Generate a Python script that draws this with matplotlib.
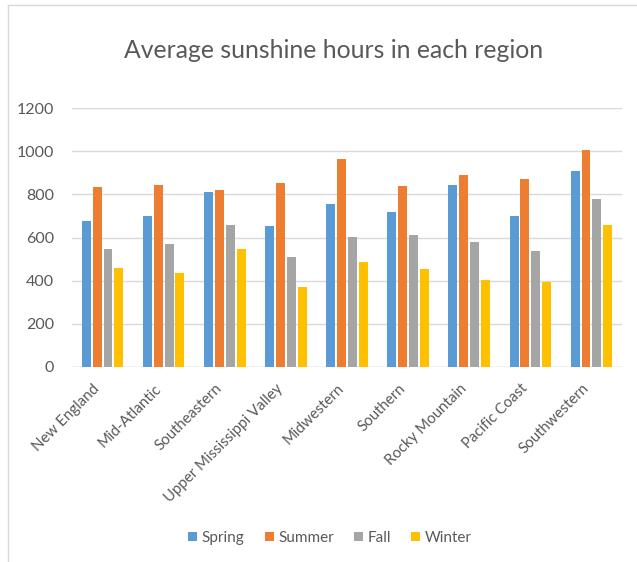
import numpy as np
import matplotlib.pyplot as plt
import matplotlib.transforms as mtransforms
from matplotlib.lines import Line2D

# --- data ---
regions = ['New England', 'Mid-Atlantic', 'Southeastern', 'Upper Mississippi Valley',
           'Midwestern', 'Southern', 'Rocky Mountain', 'Pacific Coast', 'Southwestern']
spring = [677, 699, 812, 653, 753, 719, 843, 699, 909]
summer = [832, 841, 819, 853, 966, 840, 889, 873, 1005]
fall = [545, 568, 660, 511, 603, 613, 579, 539, 779]
winter = [460, 437, 545, 372, 485, 452, 403, 394, 659]
seasons = ['Spring', 'Summer', 'Fall', 'Winter']
yticks = [0, 200, 400, 600, 800, 1000, 1200]

colors = ['#5b9bd5', '#ed7d31', '#a5a5a5', '#ffc000']
text_gray = '#595959'

plt.rcParams['font.family'] = ['Lato', 'DejaVu Sans']

fig = plt.figure(figsize=(6.37, 5.62), dpi=100)
ax = fig.add_axes([72 / 637, 1 - 367 / 562, (622 - 72) / 637, (367 - 108) / 562])

x = np.arange(len(regions))
width = 0.147
pitch = 0.178
for k, (vals, c) in enumerate(zip([spring, summer, fall, winter], colors)):
    ax.bar(x + (k - 1.5) * pitch, vals, width=width, color=c, label=seasons[k], zorder=3)

ax.set_xlim(-0.5, len(regions) - 0.5)
ax.set_ylim(0, 1200)
ax.set_yticks(yticks)
ax.set_yticklabels([str(v) for v in yticks], fontsize=11.5, color=text_gray)
ax.set_xticks(x)
ax.set_xticklabels(regions, rotation=45, ha='right', va='center', rotation_mode='anchor',
                   fontsize=10.8, color=text_gray)
ax.tick_params(length=0)
ax.tick_params(axis='y', pad=13)
ax.tick_params(axis='x', pad=14)
# nudge the rotated labels a little to the left
shift = mtransforms.ScaledTranslation(-5 / 100, 0, fig.dpi_scale_trans)
for lab in ax.get_xticklabels():
    lab.set_transform(lab.get_transform() + shift)
ax.grid(axis='y', color='#d9d9d9', linewidth=1, zorder=0)
for s in ax.spines.values():
    s.set_visible(False)
ax.axhline(0, color='#d9d9d9', linewidth=1, zorder=2)

fig.text(334 / 637, 1 - 50 / 562, 'Average sunshine hours in each region',
         ha='center', va='center', fontsize=17.8, color=text_gray)

fig.legend(loc='center', bbox_to_anchor=(330 / 637, 1 - 538 / 562), ncol=4,
           frameon=False, fontsize=11, handlelength=0.6, handleheight=0.6,
           handletextpad=0.3, columnspacing=1.3, labelcolor=text_gray)

# thin chart frame
fig.add_artist(Line2D([8 / 637, 1], [1 - 5 / 562, 1 - 5 / 562], color='#d9d9d9', lw=1))
fig.add_artist(Line2D([8 / 637, 8 / 637], [0, 1 - 5 / 562], color='#d9d9d9', lw=1))

plt.savefig('out.png', dpi=100)
